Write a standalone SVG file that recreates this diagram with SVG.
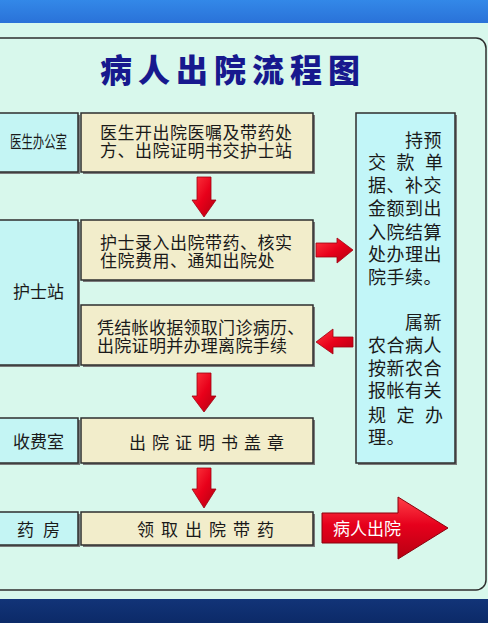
<svg xmlns="http://www.w3.org/2000/svg" width="488" height="623" viewBox="0 0 488 623">
<style>
.t{font-family:"Noto Sans CJK SC","Noto Sans",sans-serif;font-size:17px;fill:#1a1a1a}
.r{font-family:"Noto Sans CJK SC","Noto Sans",sans-serif;font-size:18px;fill:#1a1a1a}
.main{fill:#f2edcb;stroke:#2e2e2e;stroke-width:1.5}
.side{fill:#c4f5f4;stroke:#2e2e2e;stroke-width:1.5}
.sh{fill:#7a7a7a}
.arr{fill:url(#red);stroke:#a00010;stroke-width:0.8}
</style>
<defs>
<linearGradient id="top" x1="0" y1="0" x2="0" y2="1"><stop offset="0" stop-color="#3388e8"/><stop offset="1" stop-color="#2a72d8"/></linearGradient>
<linearGradient id="bot" x1="0" y1="0" x2="0" y2="1"><stop offset="0" stop-color="#123478"/><stop offset="1" stop-color="#0c2a68"/></linearGradient>
<linearGradient id="red" x1="0" y1="0" x2="1" y2="1"><stop offset="0" stop-color="#ff3a40"/><stop offset="0.5" stop-color="#e8001a"/><stop offset="1" stop-color="#b00010"/></linearGradient>
<linearGradient id="big" x1="0" y1="0" x2="0" y2="1"><stop offset="0" stop-color="#ff4048"/><stop offset="0.45" stop-color="#e6001c"/><stop offset="1" stop-color="#b80012"/></linearGradient>
</defs>
<rect x="0" y="0" width="488" height="623" fill="#d8f8ec"/>
<rect x="0" y="0" width="488" height="23" fill="url(#top)"/>
<rect x="0" y="599" width="488" height="24" fill="url(#bot)"/>
<rect x="-12" y="38" width="498" height="552" rx="10" fill="#d8f8ec" stroke="#2e2e2e" stroke-width="1.5"/>
<text x="100" y="82" font-family="'Noto Sans CJK SC',sans-serif" font-size="32" font-weight="900" letter-spacing="6" fill="#17198e">病人出院流程图</text>

<g id="node-doctor">
<rect class="sh" x="-4" y="115" width="84" height="59"/>
<rect class="side" x="-6" y="113" width="84" height="59"/>
<text class="t" x="10" y="148" font-size="13.5" textLength="57" lengthAdjust="spacingAndGlyphs">医生办公室</text>
</g>
<g id="node-step1">
<rect class="sh" x="83" y="115" width="232" height="59"/>
<rect class="main" x="81" y="113" width="232" height="59"/>
<text class="t" x="100" y="138.5" letter-spacing="0.5">医生开出院医嘱及带药处</text>
<text class="t" x="100" y="156.5" letter-spacing="0.5">方、出院证明书交护士站</text>
</g>
<g id="node-nurse">
<rect class="sh" x="-4" y="222" width="84" height="145"/>
<rect class="side" x="-6" y="220" width="84" height="145"/>
<text class="t" x="13" y="298">护士站</text>
</g>
<g id="node-step2">
<rect class="sh" x="83" y="222" width="232" height="60"/>
<rect class="main" x="81" y="220" width="232" height="60"/>
<text class="t" x="100" y="248.5" letter-spacing="0.5">护士录入出院带药、核实</text>
<text class="t" x="100" y="266.5" letter-spacing="0.5">住院费用、通知出院处</text>
</g>
<g id="node-step3">
<rect class="sh" x="83" y="307" width="232" height="60"/>
<rect class="main" x="81" y="305" width="232" height="60"/>
<text class="t" x="97" y="333.5" letter-spacing="0.3">凭结帐收据领取门诊病历、</text>
<text class="t" x="97" y="351.5" letter-spacing="0.3">出院证明并办理离院手续</text>
</g>
<g id="node-cashier">
<rect class="sh" x="-4" y="420" width="84" height="45"/>
<rect class="side" x="-6" y="418" width="84" height="45"/>
<text class="t" x="13" y="447.5">收费室</text>
</g>
<g id="node-step4">
<rect class="sh" x="83" y="420" width="232" height="45"/>
<rect class="main" x="81" y="418" width="232" height="45"/>
<text class="t" x="129" y="448.5" letter-spacing="6">出院证明书盖章</text>
</g>
<g id="node-pharmacy">
<rect class="sh" x="-4" y="514" width="84" height="33"/>
<rect class="side" x="-6" y="512" width="84" height="33"/>
<text class="t" x="17" y="536" letter-spacing="9">药房</text>
</g>
<g id="node-step5">
<rect class="sh" x="83" y="514" width="232" height="33"/>
<rect class="main" x="81" y="512" width="232" height="33"/>
<text class="t" x="137" y="536" letter-spacing="7">领取出院带药</text>
</g>
<g id="node-settle">
<rect class="sh" x="358" y="115" width="99" height="350"/>
<rect x="356" y="113" width="99" height="350" fill="#c2f6f8" stroke="#2e2e2e" stroke-width="1.5"/>
<text class="r" x="405" y="146.5" letter-spacing="0.5">持预</text>
<text class="r" x="368" y="168.5" letter-spacing="10.5">交款单</text>
<text class="r" x="368" y="191.5" letter-spacing="0.5">据、补交</text>
<text class="r" x="368" y="214.5" letter-spacing="0.5">金额到出</text>
<text class="r" x="368" y="238.5" letter-spacing="0.5">入院结算</text>
<text class="r" x="368" y="260.5" letter-spacing="0.5">处办理出</text>
<text class="r" x="368" y="283.5" letter-spacing="0.5">院手续。</text>
<text class="r" x="405" y="328.5" letter-spacing="0.5">属新</text>
<text class="r" x="368" y="351.5" letter-spacing="0.5">农合病人</text>
<text class="r" x="368" y="374.5" letter-spacing="0.5">按新农合</text>
<text class="r" x="368" y="396.5" letter-spacing="0.5">报帐有关</text>
<text class="r" x="368" y="421.5" letter-spacing="10.5">规定办</text>
<text class="r" x="368" y="443.5" letter-spacing="0.5">理。</text>
</g>
<g id="node-exit">
<path d="M322,513 L398,513 L398,497 L448,528 L398,559 L398,543 L322,543 Z" fill="url(#big)" stroke="#8a000c" stroke-width="1"/>
<text x="333" y="535" font-family="'Noto Sans CJK SC',sans-serif" font-size="17" fill="#ffffff">病人出院</text>
</g>
<g id="connectors">
<path class="arr" d="M197,177 L211,177 L211,200 L216,200 L204,217 L192,200 L197,200 Z"/>
<path class="arr" d="M316,243 L337,243 L337,238 L353,250 L337,263 L337,257 L316,257 Z"/>
<path class="arr" d="M353,337 L333,337 L333,329 L316,342 L333,354 L333,347 L353,347 Z"/>
<path class="arr" d="M197,373 L211,373 L211,396 L216,396 L204,412 L192,396 L197,396 Z"/>
<path class="arr" d="M197,468 L211,468 L211,489 L216,489 L204,508 L192,489 L197,489 Z"/>
</g>
</svg>
